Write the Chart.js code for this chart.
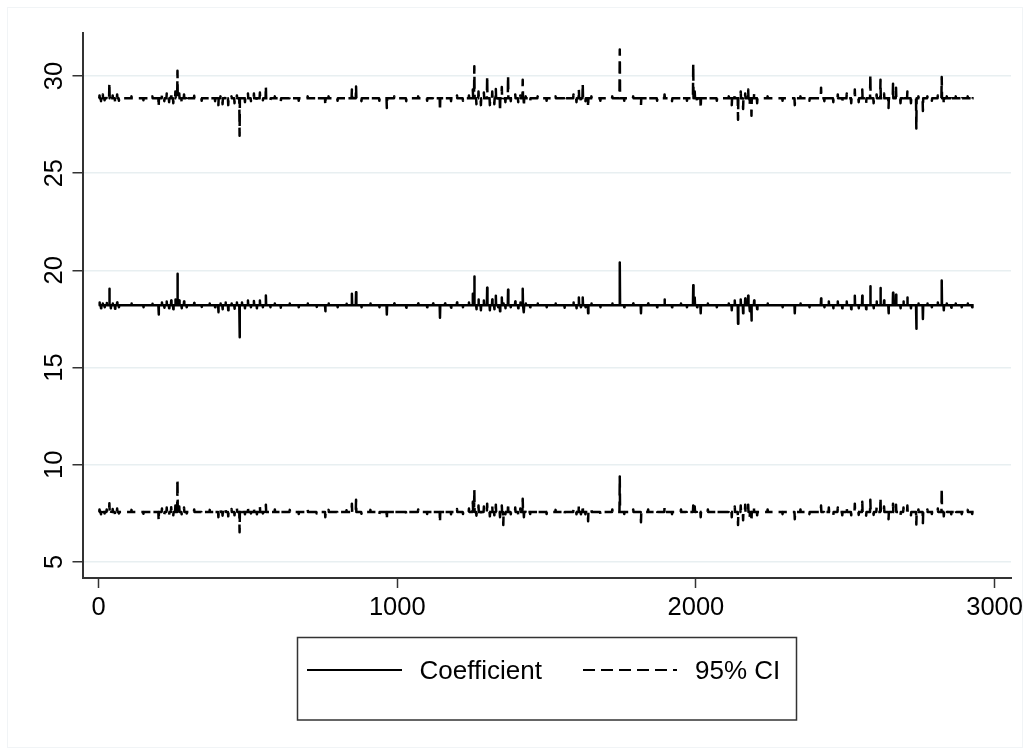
<!DOCTYPE html>
<html><head><meta charset="utf-8">
<script src="https://cdn.jsdelivr.net/npm/chart.js@4.4.1/dist/chart.umd.min.js"></script>
<style>html,body{margin:0;padding:0;background:#fff;}#wrap{position:relative;width:1030px;height:755px;}canvas{display:block;}</style>
</head><body><div id="wrap"><canvas id="c" width="1030" height="755"></canvas></div>
<script>
const obsX = [3,8,14,20,27,36,41,47,55,62,
68,110,150,180,201,212,220,228,236,243,
250,257,264,270,278,286,295,320,345,372,
390,401,408,415,425,434,445,455,463,472,
480,490,500,510,520,530,540,550,560,575,
590,610,640,670,700,730,759,770,800,830,
848,862,880,910,940,965,990,1030,1070,1100,
1120,1143,1160,1180,1200,1220,1240,1253,1258,1265,
1272,1280,1290,1301,1310,1318,1325,1330,1338,1344,
1350,1355,1362,1371,1380,1395,1405,1412,1420,1424,
1430,1445,1470,1500,1530,1560,1590,1600,1608,1615,
1621,1630,1639,1650,1680,1720,1745,1760,1790,1816,
1840,1870,1895,1920,1950,1970,1991,1996,2004,2016,
2040,2070,2110,2120,2130,2141,2150,2158,2165,2175,
2180,2186,2195,2205,2240,2290,2331,2350,2380,2419,
2430,2445,2460,2475,2490,2505,2520,2532,2545,2557,
2570,2584,2595,2605,2618,2630,2645,2660,2670,2685,
2695,2708,2720,2738,2745,2760,2775,2790,2810,2823,
2830,2840,2855,2870,2890,2910,2925];

const coefVals = [18.35,18.05,18.3,18.1,18.32,19.06,18.05,18.3,18.02,18.35,
18.1,18.3,18.1,18.28,17.73,18.35,18.08,18.4,18.05,18.45,
18.0,18.5,19.83,18.45,18.05,18.4,18.1,18.32,18.12,18.3,
18.1,17.85,18.3,18.0,18.35,17.95,18.3,18.02,18.35,16.56,
18.35,18.05,18.45,18.1,18.42,18.05,18.45,18.1,18.71,18.1,
18.3,18.08,18.3,18.1,18.3,18.12,17.9,18.3,18.1,18.28,
18.8,18.88,18.1,18.3,18.1,17.73,18.3,18.08,18.3,18.1,
18.3,17.56,18.3,18.08,18.35,18.1,18.35,18.8,19.69,18.0,
18.5,17.95,18.45,19.1,17.95,18.5,18.0,18.7,18.1,17.9,
18.6,18.3,18.05,19.0,18.1,18.4,18.05,18.35,19.05,17.85,
18.3,18.1,18.3,18.1,18.3,18.08,18.35,18.05,18.6,18.1,
18.6,18.1,17.8,18.3,18.1,18.3,20.41,18.1,18.3,17.8,
18.3,18.1,18.5,18.1,18.3,18.1,19.23,18.6,18.1,17.8,
18.3,18.1,18.3,17.95,18.45,17.25,18.5,17.8,18.55,18.7,
17.9,17.42,18.45,18.0,18.3,18.1,17.8,18.3,18.1,18.55,
18.1,18.4,18.05,18.4,18.05,18.4,18.0,18.7,18.05,18.7,
18.0,19.18,18.05,18.4,19.09,18.45,17.8,18.85,18.75,18.05,
18.4,18.6,18.05,17.0,18.3,17.5,18.3,18.1,18.35,19.48,
17.95,18.3,18.08,18.3,18.1,18.3,18.1];

const upperVals = [29.0,28.7,29.05,28.75,28.95,29.64,28.7,29.0,28.68,29.05,
28.72,28.95,28.75,28.95,28.43,29.0,28.7,29.1,28.65,29.15,
28.6,29.2,30.27,29.1,28.62,29.05,28.7,28.98,28.72,28.95,
28.7,28.5,28.95,28.55,29.0,28.5,28.95,28.6,29.0,26.92,
29.05,28.65,29.1,28.7,29.1,28.65,29.15,28.75,29.46,28.72,
28.95,28.7,28.95,28.72,28.95,28.75,28.5,28.95,28.72,28.93,
29.3,29.46,28.7,28.95,28.72,28.35,28.95,28.7,28.95,28.72,
28.95,28.23,28.95,28.7,29.0,28.72,29.0,29.3,30.5,28.55,
29.2,28.5,29.15,29.98,28.5,29.2,28.55,29.33,28.65,28.2,
29.43,28.9,28.65,30.01,28.7,29.05,28.65,29.0,29.8,28.45,
28.95,28.7,28.95,28.72,28.95,28.7,29.05,28.65,29.3,28.62,
29.6,28.7,28.4,28.95,28.72,28.95,31.36,28.72,28.95,28.5,
28.95,28.72,29.05,28.7,28.95,28.72,30.63,29.2,28.6,28.35,
28.95,28.72,28.95,28.5,29.1,27.75,29.2,28.3,29.1,29.3,
28.5,27.95,29.1,28.6,28.95,28.72,28.5,28.95,28.72,29.4,
28.7,29.05,28.65,29.05,28.6,29.1,28.6,29.3,28.65,29.3,
28.6,30.07,28.6,29.05,29.8,29.1,28.35,29.6,29.4,28.6,
29.05,29.2,28.6,27.3,28.95,28.2,28.95,28.72,29.0,29.95,
28.55,28.95,28.7,28.95,28.72,28.95,28.72];

const lowerVals = [7.7,7.45,7.75,7.5,7.7,8.02,7.45,7.72,7.42,7.75,
7.5,7.68,7.48,7.66,7.13,7.75,7.45,7.8,7.42,7.82,
7.4,7.9,9.23,7.85,7.45,7.8,7.5,7.7,7.48,7.68,
7.46,7.3,7.7,7.38,7.75,7.35,7.72,7.4,7.76,6.53,
7.75,7.45,7.85,7.5,7.82,7.45,7.85,7.5,7.95,7.48,
7.7,7.45,7.68,7.47,7.7,7.5,7.3,7.68,7.48,7.66,
8.0,8.2,7.48,7.68,7.46,7.2,7.7,7.45,7.7,7.47,
7.68,7.05,7.7,7.45,7.72,7.47,7.75,8.1,8.71,7.38,
7.9,7.35,7.85,8.0,7.35,7.9,7.4,7.95,7.45,7.3,
7.9,6.9,7.45,8.0,7.45,7.8,7.42,7.75,8.25,7.3,
7.7,7.47,7.7,7.47,7.68,7.45,7.72,7.45,7.9,7.45,
7.9,7.45,7.1,7.68,7.47,7.7,9.4,7.47,7.7,7.05,
7.7,7.47,7.8,7.46,7.7,7.47,7.9,7.85,7.45,7.3,
7.7,7.46,7.7,7.3,7.85,6.9,7.9,7.15,7.95,7.95,
7.3,7.1,7.85,7.4,7.7,7.46,7.2,7.7,7.46,7.9,
7.45,7.8,7.42,7.8,7.4,7.8,7.4,8.0,7.42,8.1,
7.38,8.2,7.42,7.8,8.3,7.85,7.2,8.0,7.95,7.4,
7.8,7.9,7.4,6.93,7.7,7.0,7.7,7.47,7.75,8.78,
7.35,7.7,7.45,7.7,7.46,7.68,7.47];

// Typical (baseline) levels of each series between the deviations
const coefBase = 18.2;
const upperBase = 28.85;
const lowerBase = 7.57;
const firstObs = 1;
const lastObs = 2930;

const xTicks = [0, 1000, 2000, 3000];
const yTicks = [5, 10, 15, 20, 25, 30];
const legendLabels = ['Coefficient', '95% CI'];

function buildSeries(vals, base) {
  const pts = [{x: firstObs, y: base}];
  let prev = firstObs;
  obsX.forEach((x, i) => {
    if (x - 1 > prev) pts.push({x: x - 1, y: base});
    pts.push({x: x, y: vals[i]});
    pts.push({x: x + 1, y: base});
    prev = x + 1;
  });
  pts.push({x: lastObs, y: base});
  return pts;
}

const FONT = "'Liberation Sans', Arial, sans-serif";
const DASH = [12, 6];

const framePlugin = {
  id: 'frame',
  beforeDraw(chart) {
    const c = chart.ctx;
    c.save();
    c.fillStyle = '#fff';
    c.fillRect(0, 0, chart.width, chart.height);
    c.strokeStyle = '#f1f4f6';
    c.lineWidth = 1;
    c.strokeRect(7.5, 7.5, 1015, 740);
    c.restore();
  },
  afterDraw(chart) {
    const c = chart.ctx;
    c.save();
    c.strokeStyle = '#333';
    c.lineWidth = 1.5;
    c.strokeRect(297.5, 637.5, 499, 82.5);
    c.strokeStyle = '#000';
    c.lineWidth = 2;
    c.beginPath(); c.moveTo(307, 670); c.lineTo(402, 670); c.stroke();
    c.setLineDash(DASH);
    c.beginPath(); c.moveTo(583, 670); c.lineTo(677, 670); c.stroke();
    c.setLineDash([]);
    c.fillStyle = '#000';
    c.font = '26px ' + FONT;
    c.textAlign = 'left';
    c.textBaseline = 'middle';
    c.fillText(legendLabels[0], 419.5, 672);
    c.fillText(legendLabels[1], 695, 672);
    c.restore();
  }
};

const lineCommon = {
  borderColor: '#000', borderWidth: 2.5, pointRadius: 0, pointHoverRadius: 0,
  tension: 0, fill: false, borderJoinStyle: 'round', borderCapStyle: 'butt'
};

new Chart(document.getElementById('c').getContext('2d'), {
  type: 'line',
  data: {
    datasets: [
      Object.assign({label: legendLabels[1], data: buildSeries(upperVals, upperBase), borderDash: DASH}, lineCommon),
      Object.assign({label: legendLabels[0], data: buildSeries(coefVals, coefBase)}, lineCommon),
      Object.assign({label: legendLabels[1], data: buildSeries(lowerVals, lowerBase), borderDash: DASH}, lineCommon)
    ]
  },
  options: {
    responsive: false,
    animation: false,
    devicePixelRatio: 1,
    events: [],
    layout: {padding: {left: 0, top: 33, right: 19, bottom: 127}},
    plugins: {legend: {display: false}, tooltip: {enabled: false}},
    scales: {
      x: {
        type: 'linear', min: -54, max: 3055,
        afterBuildTicks: s => { s.ticks = xTicks.map(v => ({value: v})); },
        afterFit: s => { s.height = 50; },
        grid: {drawOnChartArea: false, drawTicks: true, tickLength: 10, tickColor: '#333', tickWidth: 1.5},
        border: {display: true, color: '#333', width: 2},
        ticks: {color: '#000', font: {family: FONT, size: 25.5}, padding: 5, maxRotation: 0, autoSkip: false,
                callback: v => String(v)}
      },
      y: {
        type: 'linear', min: 4.176, max: 32.21,
        afterBuildTicks: s => { s.ticks = yTicks.map(v => ({value: v})); },
        afterFit: s => { s.width = 82.5; },
        grid: {color: '#e8eff1', lineWidth: 1.5, tickLength: 10, tickColor: '#333', tickWidth: 1.5},
        border: {display: true, color: '#333', width: 2},
        ticks: {color: '#000', font: {family: FONT, size: 25.5}, padding: 3, minRotation: 90, maxRotation: 90,
                crossAlign: 'center', autoSkip: false, callback: v => String(v)}
      }
    }
  },
  plugins: [framePlugin]
});
</script>
</body></html>
